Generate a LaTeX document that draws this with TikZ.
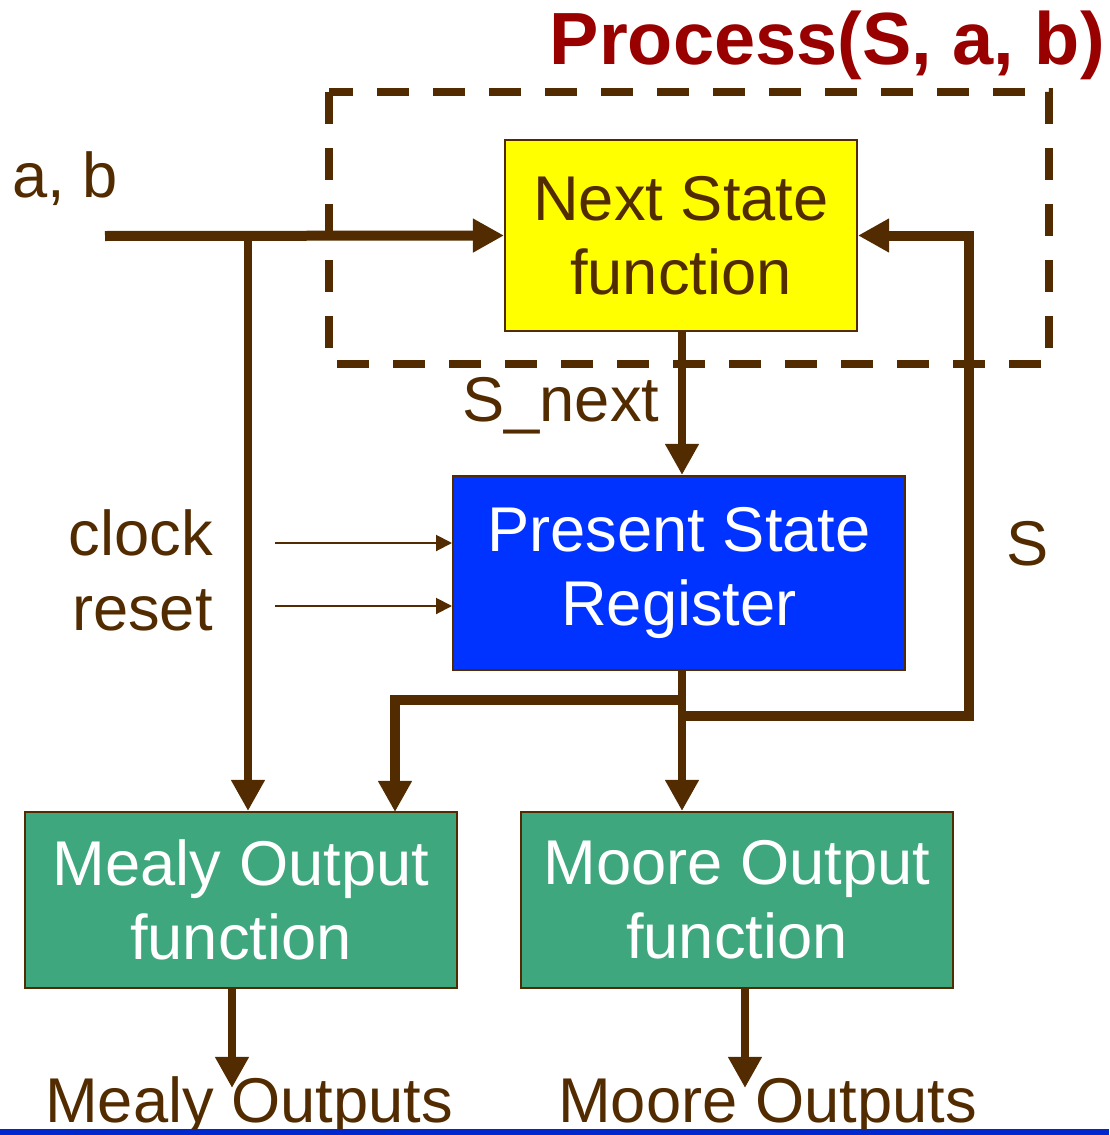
\documentclass[tikz,border=0pt]{standalone}
\usepackage{fontspec}
\setmainfont{Liberation Sans}
\usepackage{tikz}
\usetikzlibrary{positioning,arrows.meta,calc}
\definecolor{wirebrown}{RGB}{82,44,0}
\definecolor{titlered}{RGB}{153,0,0}
\definecolor{nsyellow}{RGB}{255,255,0}
\definecolor{regblue}{RGB}{0,51,255}
\definecolor{outgreen}{RGB}{63,167,125}
\definecolor{slideblue}{RGB}{0,40,204}

\begin{document}
\begin{tikzpicture}[
  fblock/.style={rectangle,draw=wirebrown,line width=0.05cm,fill=#1,inner sep=0pt,align=center,font=\fontsize{45}{52.5}\selectfont},
  wire/.style={-{Triangle[length=0.78cm,width=0.8cm]},line width=0.25cm,wirebrown},
  bus/.style={line width=0.25cm,wirebrown},
  ctrl/.style={-{Triangle[length=0.4cm,width=0.4cm]},line width=0.05cm,wirebrown},
  lab/.style={inner sep=0pt,text=wirebrown,font=\fontsize{45}{52.5}\selectfont},
]
\useasboundingbox (0,0) rectangle (27.725,-28.375);

% Title and process frame
\node[anchor=base east,inner sep=0pt,text=titlered,font=\fontsize{52.6}{60}\selectfont\bfseries] (title) at (27.625,-1.6) {Process(S, a, b)};
\draw[wirebrown,line width=0.2cm,dash pattern=on 0.8cm off 0.6cm] (8.225,-2.3) rectangle (26.225,-9.1);

% Blocks
\node[fblock=nsyellow,text=wirebrown,minimum width=8.8cm,minimum height=4.775cm] (nsf) at (17.025,-5.8875) {Next State\\function};
\node[fblock=regblue,text=white,minimum width=11.3cm,minimum height=4.85cm] (psr) at (16.975,-14.325) {Present State\\Register};
\node[fblock=outgreen,text=white,minimum width=10.8cm,minimum height=4.4cm] (mealy) at (6.025,-22.5) {Mealy Output\\function};
\node[fblock=outgreen,text=white,minimum width=10.8cm,minimum height=4.4cm] (moore) at (18.425,-22.5) {Moore Output\\function};

% Labels
\node[lab,anchor=base west] (ab) at (0.3,-4.925) {a, b};
\node[lab,anchor=base west] (snext) at (11.55,-10.525) {S\_next};
\node[lab,anchor=base east] (clock) at (5.325,-13.875) {clock};
\node[lab,anchor=base east] (reset) at (5.325,-15.75) {reset};
\node[lab,anchor=base west] (slab) at (25.15,-14.125) {S};
\node[lab,anchor=base west] (mealyo) at (1.125,-28.05) {Mealy Outputs};
\node[lab,anchor=base west] (mooreo) at (13.95,-28.05) {Moore Outputs};

% Junction points
\coordinate (in) at (2.625,-5.9);
\coordinate (j1) at (6.2,-5.9);
\coordinate (j2) at (17.05,-17.5);
\coordinate (j3) at (17.05,-17.9);
\coordinate (fb) at (24.225,-17.9);
\coordinate (m2) at (9.875,-20.3);
\coordinate (clk) at (6.875,-13.575);
\coordinate (rst) at (6.875,-15.15);
\coordinate (mealyout) at (5.8,-27.2);
\coordinate (mooreout) at (18.625,-27.2);

% Inputs a, b
\draw[wire] (in) -- (nsf.west);
\draw[wire,line width=0.22cm] (j1) -- (j1 |- mealy.north);

% Next state into register
\draw[wire,line width=0.22cm] (j2 |- nsf.south) -- (j2 |- psr.north);

% clock and reset
\draw[ctrl] (clk) -- (clk -| psr.west);
\draw[ctrl] (rst) -- (rst -| psr.west);

% Present state out
\draw[wire,line width=0.22cm] (j2 |- psr.south) -- (j2 |- moore.north);
\draw[wire] (j2) -| (m2);
\draw[wire] (j3) -- (fb) |- (nsf.east);

% Outputs
\draw[wire,line width=0.22cm] (mealyout |- mealy.south) -- (mealyout);
\draw[wire,line width=0.22cm] (mooreout |- moore.south) -- (mooreout);

% Slide rule
\fill[slideblue] (0,-28.225) rectangle (27.725,-28.375);
\end{tikzpicture}
\end{document}
